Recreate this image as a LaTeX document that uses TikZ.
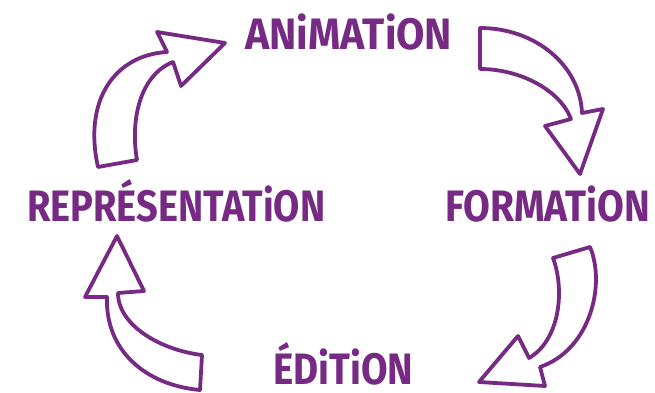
\documentclass[tikz,border=0pt]{standalone}
\usepackage{fontspec}
\usepackage{graphicx}
\usepackage {tikz}
\setmainfont{Fira Sans}
\definecolor{ink}{RGB}{118,42,131}
\newcommand{\wordbox}[2]{\resizebox{#1}{\height}{#2}}

\begin{document}
\begin{tikzpicture}[x=1pt, y=-1pt,
    wordnode/.style={text=ink, inner sep=0pt, anchor=base west, font=\fontsize{44}{44}\selectfont\bfseries},
    hollow/.style={draw=ink, fill=white, line width=3.8pt, line join=round, line cap=round},]
    \useasboundingbox (0,0) rectangle (655,393);
    %Nodes
    \node[wordnode] (anim) at (245,50) {\wordbox{207pt}{ANiMATiON}};
    \node[wordnode] (form) at (445,221) {\wordbox{205pt}{FORMATiON}};
    \node[wordnode] (edit) at (273,384) {\wordbox{140pt}{ÉDiTiON}};
    \node[wordnode] (repr) at (27,221) {\wordbox{298pt}{REPRÉSENTATiON}};

    % %Arrows
    % repr to anim
    \draw[hollow] (98,167) -- (137,160) .. controls (130,120) and (140,75) .. (173,62)
        -- (181,86) -- (225,43) -- (157,32) -- (167,52)
        .. controls (115,55) and (83,100) .. (98,167) -- cycle;
    % anim to form
    \draw[hollow] (480,28) .. controls (535,28) and (580,65) .. (582,113)
        -- (603,109) -- (580,174) -- (545,126) -- (571,119)
        .. controls (560,90) and (520,69) .. (480,69) -- cycle;
    % form to edit
    \draw[hollow] (590,247) .. controls (606,285) and (590,350) .. (540,367)
        -- (545,386) -- (479,382) -- (518,336) -- (529,358)
        .. controls (560,340) and (565,290) .. (553,258) -- cycle;
    % edit to repr
    \draw[hollow] (200,390) .. controls (145,385) and (105,350) .. (107,297)
        -- (85,297) -- (117,236) -- (144,291) -- (118,293)
        .. controls (118,325) and (160,350) .. (202,355) -- cycle;
  \end{tikzpicture}
\end{document}
